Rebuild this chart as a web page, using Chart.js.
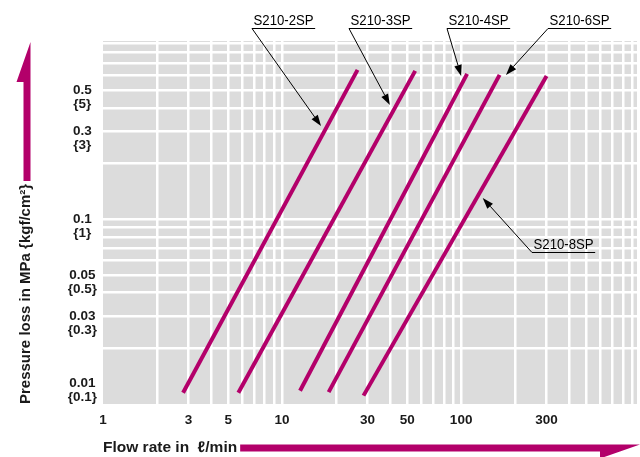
<!DOCTYPE html>
<html>
<head>
<meta charset="utf-8">
<title>S210 pressure loss</title>
<script src="https://cdn.jsdelivr.net/npm/chart.js@4.4.1/dist/chart.umd.min.js"></script>
<style>
  html, body { margin: 0; padding: 0; background: #fff; overflow: hidden; }
  canvas { display: block; }
</style>
</head>
<body>
<canvas id="chart" width="640" height="457"></canvas>
<script>
// Pressure loss vs. flow rate, S210 series (log-log)
const models   = ['S210-2SP', 'S210-3SP', 'S210-4SP', 'S210-6SP', 'S210-8SP'];

// flow rate [L/min] and pressure loss [MPa] at the two ends of each curve
const flow2SP = [2.8, 26.4];   const loss2SP = [0.0115, 0.642];
const flow3SP = [5.7, 55.4];   const loss3SP = [0.0115, 0.634];
const flow4SP = [12.6, 108];   const loss4SP = [0.0118, 0.611];
const flow6SP = [18.2, 164];   const loss6SP = [0.0116, 0.603];
const flow8SP = [28.5, 300];   const loss8SP = [0.0111, 0.595];

// axis labels
const flowTicks = [1, 3, 5, 10, 30, 50, 100, 300];
const lossTicks = [0.01, 0.03, 0.05, 0.1, 0.3, 0.5];
const kgfTicks  = ['{0.1}', '{0.3}', '{0.5}', '{1}', '{3}', '{5}'];

// where each model's callout arrow points (flow, loss)
const pointerFlow = [16.5, 40, 100, 178, 132];
const pointerLoss = [0.319, 0.415, 0.595, 0.603, 0.130];

const MAGENTA = '#b3006a';
const PANEL   = '#dcdcdc';
const INK     = '#1a1a1a';

const X_MIN = 1, X_MAX = 960;
const Y_MIN = 0.01, Y_MAX = 0.92;

// callout label placement: left end of the underline, in canvas pixels
const calloutAt = [[252, 28], [349, 28], [447, 28], [548, 28], [532, 252]];

const curves = [
  { flow: flow2SP, loss: loss2SP },
  { flow: flow3SP, loss: loss3SP },
  { flow: flow4SP, loss: loss4SP },
  { flow: flow6SP, loss: loss6SP },
  { flow: flow8SP, loss: loss8SP },
];

// 1..9 x 10^n grid positions inside [min, max]
function logSteps(min, max) {
  const out = [];
  for (let e = Math.floor(Math.log10(min)); e <= Math.ceil(Math.log10(max)); e++) {
    for (let m = 1; m <= 9; m++) {
      const v = +(m * Math.pow(10, e)).toPrecision(6);
      if (v >= min * (1 - 1e-9) && v <= max * (1 + 1e-9)) out.push(v);
    }
  }
  return out;
}
const near = (a, b) => Math.abs(a - b) <= Math.abs(b) * 1e-6;

// grey plotting panel behind the white grid
const panelPlugin = {
  id: 'panel',
  beforeDraw(chart) {
    const { ctx, chartArea: a } = chart;
    ctx.save();
    ctx.fillStyle = PANEL;
    ctx.fillRect(a.left, a.top, a.right - a.left, a.bottom - a.top);
    ctx.restore();
  }
};

// model name callouts with leader arrows
const calloutPlugin = {
  id: 'callouts',
  afterDatasetsDraw(chart) {
    const { ctx, scales: { x, y } } = chart;
    ctx.save();
    ctx.font = '15px "Liberation Sans", Arial, sans-serif';
    const squeeze = 0.88;
    models.forEach((name, i) => {
      const [ax, ay] = calloutAt[i];
      const tw = ctx.measureText(name).width * squeeze;
      // text
      ctx.save();
      ctx.translate(ax + 1.5, ay - 3);
      ctx.scale(squeeze, 1);
      ctx.fillStyle = '#000';
      ctx.textBaseline = 'alphabetic';
      ctx.fillText(name, 0, 0);
      ctx.restore();
      // underline
      ctx.strokeStyle = '#000';
      ctx.lineWidth = 1;
      ctx.beginPath();
      ctx.moveTo(ax, ay + 0.5);
      ctx.lineTo(ax + tw + 3, ay + 0.5);
      ctx.stroke();
      // leader to the curve
      const tx = x.getPixelForValue(pointerFlow[i]);
      const ty = y.getPixelForValue(pointerLoss[i]);
      const ang = Math.atan2(ty - ay, tx - ax);
      const len = 11, half = 3.8;
      const bx = tx - len * Math.cos(ang), by = ty - len * Math.sin(ang);
      ctx.beginPath();
      ctx.moveTo(ax, ay + 0.5);
      ctx.lineTo(bx, by);
      ctx.stroke();
      ctx.fillStyle = '#000';
      ctx.beginPath();
      ctx.moveTo(tx, ty);
      ctx.lineTo(bx + half * Math.sin(ang), by - half * Math.cos(ang));
      ctx.lineTo(bx - half * Math.sin(ang), by + half * Math.cos(ang));
      ctx.closePath();
      ctx.fill();
    });
    ctx.restore();
  }
};

// direction arrows that follow the axis titles
const axisArrowPlugin = {
  id: 'axisArrows',
  afterDraw(chart) {
    const { ctx, chartArea: a, scales: { x, y } } = chart;
    ctx.save();
    ctx.fillStyle = MAGENTA;

    // horizontal arrow after "Flow rate in ℓ/min"
    const xt = x.options.title;
    ctx.font = Chart.helpers.toFont(xt.font).string;
    const xw = ctx.measureText(xt.text).width;
    const sx = a.left + xw + 3;
    const sy0 = 444.5, sy1 = 451.5;
    ctx.beginPath();
    ctx.moveTo(sx, sy0);
    ctx.lineTo(chart.width, sy0);
    ctx.lineTo(chart.width - 40, sy1 + 7);
    ctx.lineTo(chart.width - 40, sy1);
    ctx.lineTo(sx, sy1);
    ctx.closePath();
    ctx.fill();

    // vertical arrow after the pressure loss title
    const yt = y.options.title;
    const yf = Chart.helpers.toFont(yt.font);
    ctx.font = yf.string;
    const yw = ctx.measureText(yt.text).width;
    const cx = y.left + yf.lineHeight / 2 + yt.padding.top + 1;
    const bottom = a.bottom - yw - 3;
    const lx = cx - 3.5, rx = cx + 3.5;
    ctx.beginPath();
    ctx.moveTo(rx, a.top + 1);
    ctx.lineTo(rx, bottom);
    ctx.lineTo(lx, bottom);
    ctx.lineTo(lx, a.top + 41);
    ctx.lineTo(lx - 7, a.top + 41);
    ctx.closePath();
    ctx.fill();
    ctx.restore();
  }
};

new Chart(document.getElementById('chart'), {
  type: 'scatter',
  data: {
    datasets: curves.map((c, i) => ({
      label: models[i],
      data: c.flow.map((f, k) => ({ x: f, y: c.loss[k] })),
      showLine: true,
      borderColor: MAGENTA,
      backgroundColor: MAGENTA,
      borderWidth: 4,
      borderCapStyle: 'butt',
      pointRadius: 0,
      pointHoverRadius: 0,
      tension: 0,
    }))
  },
  options: {
    responsive: false,
    devicePixelRatio: 1,
    animation: false,
    events: [],
    layout: { padding: { top: 41, right: 0, bottom: 0, left: 0 } },
    plugins: {
      legend: { display: false },
      tooltip: { enabled: false },
      title: { display: false },
    },
    scales: {
      x: {
        type: 'logarithmic',
        min: X_MIN,
        max: X_MAX,
        afterBuildTicks(scale) {
          scale.ticks = logSteps(X_MIN, X_MAX).map(v => ({ value: v }));
        },
        afterFit(scale) { scale.height = 53; },
        border: { display: false },
        grid: {
          color: ctx => (ctx.tick && near(ctx.tick.value, X_MIN)) ? 'rgba(0,0,0,0)' : '#ffffff',
          lineWidth: 2.5,
          drawTicks: false,
        },
        ticks: {
          autoSkip: false,
          maxRotation: 0,
          minRotation: 0,
          padding: 8,
          color: INK,
          font: { family: '"Liberation Sans", Arial, sans-serif', size: 13.5, weight: 'bold' },
          callback(value) {
            const t = flowTicks.find(v => near(v, value));
            return t === undefined ? '' : String(t);
          }
        },
        title: {
          display: true,
          align: 'start',
          text: 'Flow rate in  ℓ/min',
          color: INK,
          font: { family: '"Liberation Sans", Arial, sans-serif', size: 15.5, weight: 'bold', lineHeight: 1 },
          padding: { top: 0, bottom: 2 },
        }
      },
      y: {
        type: 'logarithmic',
        min: Y_MIN,
        max: Y_MAX,
        afterBuildTicks(scale) {
          scale.ticks = logSteps(Y_MIN, Y_MAX).map(v => ({ value: v }));
        },
        afterFit(scale) { scale.width = 103; },
        border: { display: false },
        grid: {
          color: ctx => (ctx.tick && near(ctx.tick.value, Y_MIN)) ? 'rgba(0,0,0,0)' : '#ffffff',
          lineWidth: 2.5,
          drawTicks: false,
        },
        ticks: {
          autoSkip: false,
          crossAlign: 'center',
          padding: 6,
          color: INK,
          font: { family: '"Liberation Sans", Arial, sans-serif', size: 13.5, weight: 'bold', lineHeight: 1.04 },
          callback(value) {
            const i = lossTicks.findIndex(v => near(v, value));
            if (i < 0) return '';
            const mpa = String(lossTicks[i]);
            // the lowest label sits above the panel edge
            return i === 0 ? [mpa, kgfTicks[i], '', ''] : ['', mpa, kgfTicks[i]];
          }
        },
        title: {
          display: true,
          align: 'start',
          text: 'Pressure loss in MPa {kgf/cm²}',
          color: INK,
          font: { family: '"Liberation Sans", Arial, sans-serif', size: 15, weight: 'bold' },
          padding: { top: 17, bottom: 0 },
        }
      }
    }
  },
  plugins: [panelPlugin, calloutPlugin, axisArrowPlugin]
});
</script>
</body>
</html>
